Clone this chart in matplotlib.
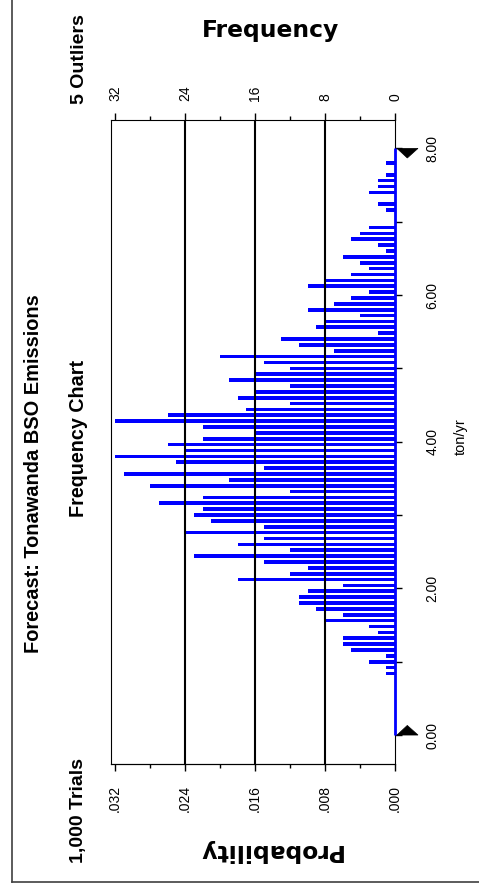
import numpy as np
import matplotlib
matplotlib.use("Agg")
import matplotlib.pyplot as plt
from matplotlib.lines import Line2D
from matplotlib.patches import Polygon
from matplotlib.transforms import blended_transform_factory, ScaledTranslation

# ---------------- data ----------------
TRIALS = 1000
OUTLIERS = 5
RANGE = [0.0, 8.0]                 # displayed range of ton/yr (certainty grabbers)
# frequency per bin (100 bins across 0.00 - 8.00 ton/yr)
counts = [
    0, 0, 0, 0, 0, 0, 0, 0, 0, 0,
    1, 1, 3, 1, 5, 6, 6, 2, 3, 8,
    6, 9, 11, 11, 10, 6, 18, 12, 10, 15,
    23, 12, 18, 15, 24, 15, 21, 23, 22, 27,
    22, 12, 28, 19, 31, 15, 25, 32, 24, 26,
    22, 16, 22, 32, 26, 17, 12, 18, 16, 12,
    19, 16, 12, 15, 20, 7, 11, 13, 2, 9,
    8, 4, 10, 7, 5, 3, 10, 8, 5, 3,
    4, 6, 1, 2, 5, 4, 3, 0, 0, 1,
    2, 0, 3, 2, 2, 1, 0, 1, 0, 0,
]
freq_ticks = [0, 8, 16, 24, 32]
freq_minor = [4, 12, 20, 28]
freq_labels = ["0", "8", "16", "24", "32"]
prob_ticks = [0.000, 0.008, 0.016, 0.024, 0.032]
prob_minor = [0.004, 0.012, 0.020, 0.028]
prob_labels = [".000", ".008", ".016", ".024", ".032"]
val_ticks = [0, 2, 4, 6, 8]
val_minor = [1, 3, 5, 7]
val_labels = ["0.00", "2.00", "4.00", "6.00", "8.00"]

title = "Forecast: Tonawanda BSO Emissions"
subtitle = "Frequency Chart"
trials_txt = "1,000 Trials"
outliers_txt = "5 Outliers"

# ---------------- figure ----------------
W, H = 479, 888
fig = plt.figure(figsize=(W / 100, H / 100), dpi=100)
fig.patch.set_facecolor("white")

def fx(px):
    return px / W

def fy(py):
    return 1 - py / H

ax = fig.add_axes([fx(111), fy(764), (395 - 111) / W, (764 - 120) / H])

n = len(counts)
edges = np.linspace(RANGE[0], RANGE[1], n + 1)
centers = (edges[:-1] + edges[1:]) / 2
bw = edges[1] - edges[0]

ax.barh(centers, counts, height=bw * 0.62, color="#0000FF", linewidth=0, zorder=2)
# baseline along the value range
ax.plot([0, 0], RANGE, color="#0000FF", lw=2.0, solid_capstyle="butt",
        zorder=5, clip_on=False)

for g in freq_ticks[1:-1]:
    ax.axvline(g, color="black", lw=1.5, zorder=3)

ax.set_xlim(32.46, 0)
ax.set_ylim(-0.395, 8.387)

for s in ax.spines.values():
    s.set_linewidth(0.8)
    s.set_color("black")

tick_font = dict(family="Liberation Sans", size=10)

# top axis: frequency
ax.xaxis.set_ticks_position("top")
ax.set_xticks(freq_ticks)
ax.set_xticklabels(freq_labels, fontdict=tick_font)
ax.set_xticks(freq_minor, minor=True)
ax.tick_params(axis="x", which="major", direction="out", length=5, width=1,
               pad=9, labelrotation=90)
ax.tick_params(axis="x", which="minor", direction="out", length=3, width=1)

# bottom axis: probability
sec = ax.secondary_xaxis("bottom", functions=(lambda c: c / TRIALS, lambda p: p * TRIALS))
sec.set_xticks(prob_ticks)
sec.set_xticklabels(prob_labels, fontdict=tick_font)
sec.set_xticks(prob_minor, minor=True)
sec.tick_params(axis="x", which="major", direction="out", length=5, width=1,
                pad=10, labelrotation=90)
sec.tick_params(axis="x", which="minor", direction="out", length=3, width=1)
sec.spines["bottom"].set_linewidth(0.8)

# right axis: ton/yr
ax.yaxis.set_ticks_position("right")
ax.set_yticks(val_ticks)
ax.set_yticklabels(val_labels, fontdict=tick_font)
ax.set_yticks(val_minor, minor=True)
ax.tick_params(axis="y", which="both", direction="out", length=5, width=1,
               pad=17, labelrotation=90)
for lab in ax.get_yticklabels():
    lab.set_verticalalignment("center")

# certainty grabber triangles at the range ends
base = blended_transform_factory(ax.transAxes, ax.transData)
for v, d in zip(RANGE, [1, -1]):
    tr = ScaledTranslation(1.0, v, base)
    tri = Polygon([(2, 0), (23, 0), (12.3, 9.6 * d)], closed=True,
                  facecolor="black", edgecolor="black", lw=0.5,
                  transform=tr, clip_on=False, zorder=6)
    fig.add_artist(tri)

# ---------------- texts ----------------
bold = dict(family="Liberation Sans", weight="bold")
fig.text(fx(34), fy(474), title, rotation=90, ha="center", va="center", size=14.4, **bold)
fig.text(fx(79), fy(438.5), subtitle, rotation=90, ha="center", va="center", size=14.2, **bold)
fig.text(fx(78), fy(810), trials_txt, rotation=90, ha="center", va="center", size=14, **bold)
fig.text(fx(79), fy(59), outliers_txt, rotation=90, ha="center", va="center", size=14, **bold)

fig.text(fx(270), fy(31), "Frequency", ha="center", va="center", size=16.8,
         family="DejaVu Sans", weight="bold")
fig.text(fx(269.5), fy(850), "Probability", rotation=180, ha="center", va="center",
         size=16.8, family="DejaVu Sans", weight="bold")
fig.text(fx(461), fy(437), "ton/yr", rotation=90, ha="center", va="center",
         size=10.5, family="Liberation Sans")

# outer frame (left and bottom edges)
fig.add_artist(Line2D([fx(11.5), fx(11.5)], [1, fy(881.5)], color="#404040", lw=1.2))
fig.add_artist(Line2D([fx(11.5), 1], [fy(881.5), fy(881.5)], color="#404040", lw=1.2))

fig.savefig("out.png", dpi=100, facecolor="white")
